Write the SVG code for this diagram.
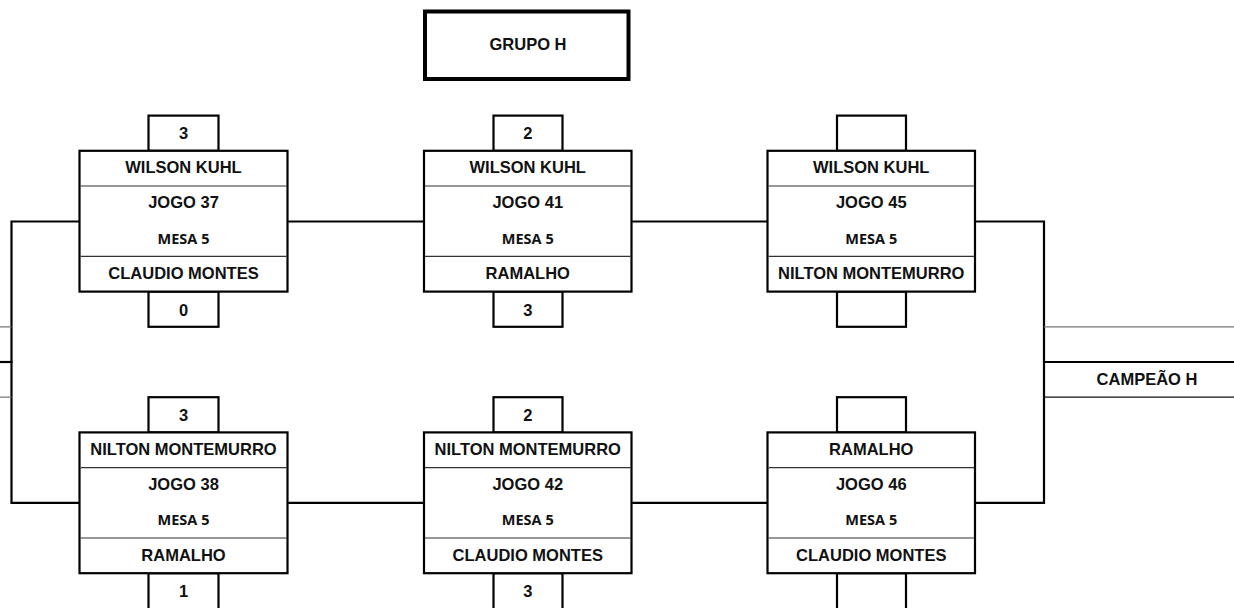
<svg xmlns="http://www.w3.org/2000/svg" width="1234" height="608" viewBox="0 0 1234 608">
<style>
  .bg{fill:#ffffff}
  .box{fill:#ffffff;stroke:#000;stroke-width:2.2}
  .sc{fill:#ffffff;stroke:#000;stroke-width:2.2}
  .sep{stroke:#333;stroke-width:1.2}
  .t{font-family:"Liberation Sans",Arial,sans-serif;font-weight:700;font-size:16.5px;fill:#111;text-anchor:middle}
  .m{font-family:"Open Sans","Noto Sans",sans-serif;font-weight:700;font-size:14.5px;fill:#111;text-anchor:middle}
  .con{fill:none;stroke:#000;stroke-width:2.2}
  .thin{fill:none;stroke:#777;stroke-width:1.2}
  .thinb{fill:none;stroke:#111;stroke-width:1.3}
</style>
<rect class="bg" x="0" y="0" width="1234" height="608"/>

<g id="connectors">
  <path class="con" d="M79.5 221.5 H11.5 V502.8 H79.5"/>
  <path class="con" d="M0 362 H12.5"/>
  <path class="thin" d="M0 326.8 H11.5 M0 397.2 H11.5"/>
  <path class="con" d="M287.5 221.5 H424 M287.5 502.8 H424"/>
  <path class="con" d="M631.5 221.5 H767.5 M631.5 502.8 H767.5"/>
  <path class="con" d="M975 221.5 H1044 V502.8 H975"/>
  <path class="thin" d="M1044 326.8 H1234"/>
  <path class="con" d="M1044 362 H1234"/>
  <path class="thinb" d="M1044 397.2 H1234"/>
</g>

<g id="title">
  <rect x="425" y="11.5" width="203.5" height="67.5" fill="#fff" stroke="#000" stroke-width="4"/>
  <text class="t" x="528" y="50">GRUPO H</text>
</g>

<g id="jogo37">
  <rect class="sc" x="148.5" y="115.6" width="70" height="35.2"/>
  <rect class="sc" x="148.5" y="291.6" width="70" height="35.2"/>
  <rect class="box" x="79.5" y="150.8" width="208" height="140.8"/>
  <line class="sep" x1="80.5" y1="186" x2="286.5" y2="186"/>
  <line class="sep" x1="80.5" y1="256.4" x2="286.5" y2="256.4"/>
  <text class="t" x="183.5" y="138.6">3</text>
  <text class="t" x="183.5" y="173.4">WILSON KUHL</text>
  <text class="t" x="183.5" y="207.6">JOGO 37</text>
  <text class="m" x="183.5" y="243.5">MESA 5</text>
  <text class="t" x="183.5" y="279.3">CLAUDIO MONTES</text>
  <text class="t" x="183.5" y="316">0</text>
</g>

<g id="jogo38">
  <rect class="sc" x="148.5" y="397.2" width="70" height="35.2"/>
  <rect class="sc" x="148.5" y="573.2" width="70" height="50"/>
  <rect class="box" x="79.5" y="432.4" width="208" height="140.8"/>
  <line class="sep" x1="80.5" y1="467.6" x2="286.5" y2="467.6"/>
  <line class="sep" x1="80.5" y1="538" x2="286.5" y2="538"/>
  <text class="t" x="183.5" y="420.6">3</text>
  <text class="t" x="183.5" y="455">NILTON MONTEMURRO</text>
  <text class="t" x="183.5" y="489.6">JOGO 38</text>
  <text class="m" x="183.5" y="525.4">MESA 5</text>
  <text class="t" x="183.5" y="560.9">RAMALHO</text>
  <text class="t" x="183.5" y="597">1</text>
</g>

<g id="jogo41">
  <rect class="sc" x="493.5" y="115.6" width="69" height="35.2"/>
  <rect class="sc" x="493.5" y="291.6" width="69" height="35.2"/>
  <rect class="box" x="424" y="150.8" width="207.5" height="140.8"/>
  <line class="sep" x1="425" y1="186" x2="630.5" y2="186"/>
  <line class="sep" x1="425" y1="256.4" x2="630.5" y2="256.4"/>
  <text class="t" x="527.75" y="138.6">2</text>
  <text class="t" x="527.75" y="173.4">WILSON KUHL</text>
  <text class="t" x="527.75" y="207.6">JOGO 41</text>
  <text class="m" x="527.75" y="243.5">MESA 5</text>
  <text class="t" x="527.75" y="279.3">RAMALHO</text>
  <text class="t" x="527.75" y="316">3</text>
</g>

<g id="jogo42">
  <rect class="sc" x="493.5" y="397.2" width="69" height="35.2"/>
  <rect class="sc" x="493.5" y="573.2" width="69" height="50"/>
  <rect class="box" x="424" y="432.4" width="207.5" height="140.8"/>
  <line class="sep" x1="425" y1="467.6" x2="630.5" y2="467.6"/>
  <line class="sep" x1="425" y1="538" x2="630.5" y2="538"/>
  <text class="t" x="527.75" y="420.6">2</text>
  <text class="t" x="527.75" y="455">NILTON MONTEMURRO</text>
  <text class="t" x="527.75" y="489.6">JOGO 42</text>
  <text class="m" x="527.75" y="525.4">MESA 5</text>
  <text class="t" x="527.75" y="560.9">CLAUDIO MONTES</text>
  <text class="t" x="527.75" y="597">3</text>
</g>

<g id="jogo45">
  <rect class="sc" x="837" y="115.6" width="69" height="35.2"/>
  <rect class="sc" x="837" y="291.6" width="69" height="35.2"/>
  <rect class="box" x="767.5" y="150.8" width="207.5" height="140.8"/>
  <line class="sep" x1="768.5" y1="186" x2="974" y2="186"/>
  <line class="sep" x1="768.5" y1="256.4" x2="974" y2="256.4"/>
  <text class="t" x="871.25" y="173.4">WILSON KUHL</text>
  <text class="t" x="871.25" y="207.6">JOGO 45</text>
  <text class="m" x="871.25" y="243.5">MESA 5</text>
  <text class="t" x="871.25" y="279.3">NILTON MONTEMURRO</text>
</g>

<g id="jogo46">
  <rect class="sc" x="837" y="397.2" width="69" height="35.2"/>
  <rect class="sc" x="837" y="573.2" width="69" height="50"/>
  <rect class="box" x="767.5" y="432.4" width="207.5" height="140.8"/>
  <line class="sep" x1="768.5" y1="467.6" x2="974" y2="467.6"/>
  <line class="sep" x1="768.5" y1="538" x2="974" y2="538"/>
  <text class="t" x="871.25" y="455">RAMALHO</text>
  <text class="t" x="871.25" y="489.6">JOGO 46</text>
  <text class="m" x="871.25" y="525.4">MESA 5</text>
  <text class="t" x="871.25" y="560.9">CLAUDIO MONTES</text>
</g>

<g id="campeao">
  <text class="t" x="1147" y="385">CAMPEÃO H</text>
</g>
</svg>
